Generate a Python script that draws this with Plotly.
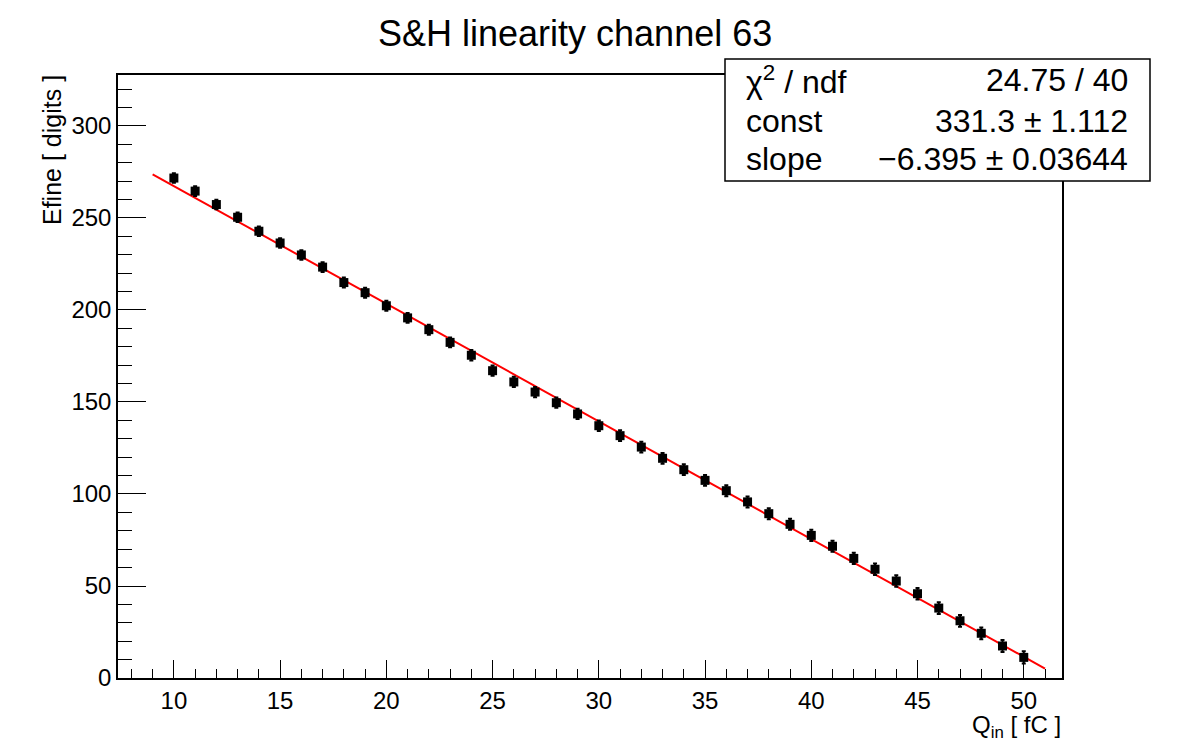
import plotly.graph_objects as go

# ---- data ----
q_in = [10, 11, 12, 13, 14, 15, 16, 17, 18, 19, 20, 21, 22, 23, 24, 25, 26, 27, 28, 29,
        30, 31, 32, 33, 34, 35, 36, 37, 38, 39, 40, 41, 42, 43, 44, 45, 46, 47, 48, 49, 50]
efine = [271.7, 264.6, 257.3, 250.4, 242.8, 236.4, 229.9, 223.3, 214.9, 209.4,
         202.3, 195.7, 189.3, 182.4, 175.4, 167.0, 160.9, 155.4, 149.6, 143.5,
         137.1, 131.7, 125.5, 119.4, 113.2, 107.4, 101.8, 95.7, 89.3, 83.5,
         77.5, 71.6, 65.0, 59.1, 52.7, 45.8, 38.0, 31.1, 24.3, 17.4, 11.2]
efine_err = [2.6, 2.6, 2.6, 2.6, 2.6, 2.6, 2.6, 2.6, 2.7, 2.7,
             2.7, 2.7, 2.7, 2.7, 2.8, 2.8, 2.8, 2.8, 2.8, 2.8,
             2.9, 2.9, 2.9, 2.9, 2.9, 2.9, 3.0, 3.0, 3.0, 3.0,
             3.0, 3.0, 3.1, 3.1, 3.1, 3.1, 3.2, 3.2, 3.2, 3.3, 3.3]
fit_const = 331.3
fit_slope = -6.395
fit_range = [9, 51]
stats_rows = [("χ<sup>2</sup> / ndf", "24.75 / 40"),
              ("const", "331.3 ± 1.112"),
              ("slope", "−6.395 ± 0.03644")]

W, H = 1182, 755
L, R, T, B = 118, 1062, 75, 678  # plot area in pixels


def px(x):
    return (x - L) / (R - L)


def py(y):
    return (B - y) / (B - T)


FONT = "Liberation Sans, Arial, Helvetica, sans-serif"

fit_y = [fit_const + fit_slope * x for x in fit_range]

fig = go.Figure()
fig.add_trace(go.Scatter(
    x=fit_range, y=fit_y, mode="lines",
    line=dict(color="#ff0000", width=2), showlegend=False, hoverinfo="skip"))
fig.add_trace(go.Scatter(
    x=q_in, y=efine, mode="markers",
    marker=dict(symbol="square", size=9, color="black"),
    error_y=dict(type="data", array=efine_err, color="black", thickness=2, width=2),
    showlegend=False))

fig.update_xaxes(
    range=[7.37, 51.8], showgrid=False, zeroline=False,
    showline=True, linecolor="black", linewidth=1.5, mirror=True,
    ticks="inside", ticklen=18, tickwidth=1, tickcolor="black",
    tick0=0, dtick=5,
    minor=dict(ticks="inside", ticklen=9, dtick=1, tick0=0, tickcolor="black", tickwidth=1, showgrid=False),
    tickfont=dict(family=FONT, size=24, color="black"))
fig.update_yaxes(
    range=[0, 327.7], showgrid=False, zeroline=False,
    showline=True, linecolor="black", linewidth=1.5, mirror=True,
    ticks="inside", ticklen=28, tickwidth=1, tickcolor="black",
    tick0=0, dtick=50,
    minor=dict(ticks="inside", ticklen=14, dtick=10, tick0=0, tickcolor="black", tickwidth=1, showgrid=False),
    tickfont=dict(family=FONT, size=24, color="black"))

annotations = [
    dict(text="S&H linearity channel 63", x=px(575), y=py(33), xref="paper", yref="paper",
         xanchor="center", yanchor="middle", showarrow=False,
         font=dict(family=FONT, size=36, color="black")),
    dict(text="Efine [ digits ]", x=px(52), y=py(73), xref="paper", yref="paper",
         xanchor="center", yanchor="top", textangle=-90, showarrow=False,
         font=dict(family=FONT, size=25, color="black")),
    dict(text="Q<sub>in</sub> [ fC ]", x=px(1063), y=py(726), xref="paper", yref="paper",
         xanchor="right", yanchor="middle", showarrow=False,
         font=dict(family=FONT, size=24, color="black")),
]
row_y = [80, 121, 159]
for (lab, val), yy in zip(stats_rows, row_y):
    annotations.append(dict(text=lab, x=px(744), y=py(yy), xref="paper", yref="paper",
                            xanchor="left", yanchor="middle", showarrow=False,
                            font=dict(family=FONT, size=32, color="black")))
    annotations.append(dict(text=val, x=px(1130), y=py(yy), xref="paper", yref="paper",
                            xanchor="right", yanchor="middle", showarrow=False,
                            font=dict(family=FONT, size=32, color="black")))

shapes = [dict(type="rect", xref="paper", yref="paper",
               x0=px(725), x1=px(1150), y0=py(181), y1=py(59),
               line=dict(color="black", width=1.5), fillcolor="white", layer="above")]

fig.update_layout(
    width=W, height=H,
    margin=dict(l=L, r=W - R, t=T, b=H - B),
    paper_bgcolor="white", plot_bgcolor="white",
    annotations=annotations, shapes=shapes,
    font=dict(family=FONT, color="black"),
)

fig.write_html("out.html")
